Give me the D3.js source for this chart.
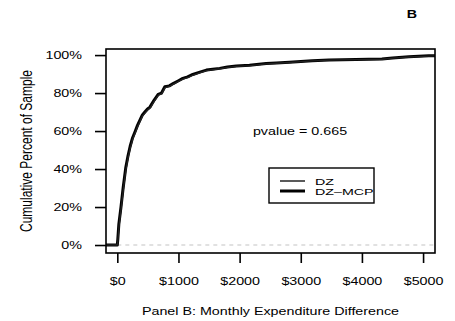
<!DOCTYPE html>
<html>
<head>
<meta charset="utf-8">
<script src="https://cdn.jsdelivr.net/npm/d3@7"></script>
<style>
  html, body { margin: 0; padding: 0; background: #fff; }
  svg { display: block; }
  text { font-family: "Liberation Sans", Arial, sans-serif; fill: #000; }
</style>
</head>
<body>
<script>
// ---- data ----
const xTicks = [0, 1000, 2000, 3000, 4000, 5000];
const xTickLabels = ["$0", "$1000", "$2000", "$3000", "$4000", "$5000"];
const yTicks = [0, 0.2, 0.4, 0.6, 0.8, 1.0];
const yTickLabels = ["0%", "20%", "40%", "60%", "80%", "100%"];

const seriesNames = ["DZ", "DZ\u2013MCP"];

const dzMcpX = [-300, 0, 8, 25, 60, 95, 137, 175, 210, 250, 288, 330, 370, 410, 450, 490, 533, 600, 668, 723, 777, 850, 912, 1000, 1070, 1150, 1233, 1350, 1456, 1560, 1673, 1800, 1945, 2161, 2433, 2600, 2813, 3000, 3187, 3464, 3900, 4327, 4500, 4767, 5093, 5400];
const dzMcpY = [0, 0, 0.03, 0.11, 0.20, 0.30, 0.405, 0.47, 0.52, 0.565, 0.595, 0.63, 0.658, 0.685, 0.70, 0.715, 0.726, 0.762, 0.793, 0.80, 0.833, 0.838, 0.85, 0.865, 0.877, 0.885, 0.898, 0.91, 0.921, 0.925, 0.93, 0.937, 0.942, 0.947, 0.956, 0.958, 0.962, 0.966, 0.970, 0.974, 0.977, 0.979, 0.985, 0.991, 0.996, 0.997];

const dzX = [-300, 0, 10, 28, 62, 98, 140, 178, 214, 252, 292, 334, 374, 414, 455, 495, 538, 605, 672, 728, 782, 855, 918, 1005, 1076, 1156, 1240, 1356, 1462, 1566, 1680, 1806, 1952, 2168, 2440, 2606, 2820, 3006, 3194, 3470, 3906, 4334, 4506, 4774, 5100, 5400];
const dzY = [0, 0, 0.025, 0.10, 0.19, 0.29, 0.395, 0.462, 0.513, 0.558, 0.59, 0.625, 0.653, 0.68, 0.696, 0.711, 0.722, 0.758, 0.789, 0.797, 0.829, 0.835, 0.847, 0.862, 0.874, 0.882, 0.895, 0.907, 0.918, 0.923, 0.928, 0.935, 0.94, 0.945, 0.954, 0.957, 0.961, 0.965, 0.969, 0.973, 0.976, 0.978, 0.984, 0.99, 0.995, 0.997];

const pvalueText = "pvalue = 0.665";
const xTitle = "Panel B: Monthly Expenditure Difference";
const yTitle = "Cumulative Percent of Sample";
const panelLetter = "B";

// ---- layout ----
const W = 455, H = 321;
const L = 106, R = 435, T = 49, B = 253;
const SX = 1.3; // horizontal stretch of text in the reference

const svg = d3.select("body").append("svg").attr("width", W).attr("height", H);

const x = d3.scaleLinear().domain([-185, 5195]).range([L, R]);
const y = d3.scaleLinear().domain([-0.042, 1.032]).range([B, T]);

function stretchedText(sel, px, py, str, size, anchor, weight, sx) {
  return sel.append("text")
    .attr("transform", `translate(${px},${py}) scale(${sx || SX},1)`)
    .attr("text-anchor", anchor)
    .style("font-size", size + "px")
    .style("font-weight", weight || "normal")
    .text(str);
}

// clip
svg.append("clipPath").attr("id", "plotclip")
  .append("rect").attr("x", L).attr("y", T).attr("width", R - L).attr("height", B - T);

// dashed grey zero line
svg.append("line")
  .attr("x1", x(0)).attr("x2", R)
  .attr("y1", y(0)).attr("y2", y(0))
  .attr("stroke", "#c4c4c4").attr("stroke-width", 1.2)
  .attr("stroke-dasharray", "4,4");

// curves
const line = d3.line().x(d => x(d[0])).y(d => y(d[1])).curve(d3.curveLinear);
const g = svg.append("g").attr("clip-path", "url(#plotclip)");
g.append("path").datum(dzMcpX.map((v, i) => [v, dzMcpY[i]]))
  .attr("d", line).attr("fill", "none").attr("stroke", "#000")
  .attr("stroke-width", 3).attr("stroke-linejoin", "round");
g.append("path").datum(dzX.map((v, i) => [v, dzY[i]]))
  .attr("d", line).attr("fill", "none").attr("stroke", "#222")
  .attr("stroke-width", 1.3).attr("stroke-linejoin", "round");

// box
svg.append("rect").attr("x", L).attr("y", T).attr("width", R - L).attr("height", B - T)
  .attr("fill", "none").attr("stroke", "#000").attr("stroke-width", 1.6);

// x axis
const xAxis = d3.axisBottom(x).tickValues(xTicks)
  .tickFormat((d, i) => xTickLabels[i]).tickSize(10).tickPadding(14);
const gx = svg.append("g").attr("transform", `translate(0,${B})`).call(xAxis);
gx.select(".domain").remove();
gx.selectAll(".tick line").attr("stroke", "#000").attr("stroke-width", 1.6);
gx.selectAll(".tick text")
  .style("font-size", "11px").style("font-family", "Liberation Sans, Arial, sans-serif")
  .attr("fill", "#000")
  .attr("transform", `scale(${SX},1)`);

// y axis
const yAxis = d3.axisLeft(y).tickValues(yTicks)
  .tickFormat((d, i) => yTickLabels[i]).tickSize(11).tickPadding(13);
const gy = svg.append("g").attr("transform", `translate(${L},0)`).call(yAxis);
gy.select(".domain").remove();
gy.selectAll(".tick line").attr("stroke", "#000").attr("stroke-width", 1.6);
gy.selectAll(".tick text")
  .style("font-size", "11px").style("font-family", "Liberation Sans, Arial, sans-serif")
  .attr("fill", "#000")
  .attr("x", -24 / SX)
  .attr("transform", `scale(${SX},1)`);

// titles
stretchedText(svg, (L + R) / 2, 315, xTitle, 11, "middle");
svg.append("text")
  .attr("transform", `translate(32,${(T + B) / 2}) scale(${SX},1) rotate(-90)`)
  .attr("text-anchor", "middle")
  .style("font-size", "12px")
  .text(yTitle);
stretchedText(svg, 412, 18, panelLetter, 11, "middle", "bold");

// p-value
stretchedText(svg, 300, 135, pvalueText, 11, "middle");

// legend
const lgX = 269, lgY = 168, lgW = 105, lgH = 35;
svg.append("rect").attr("x", lgX).attr("y", lgY).attr("width", lgW).attr("height", lgH)
  .attr("fill", "#fff").attr("stroke", "#000").attr("stroke-width", 1.4);
const legendWidths = [1.3, 3];
seriesNames.forEach((name, i) => {
  const ly = 181 + i * 10;
  svg.append("line").attr("x1", 280).attr("x2", 305).attr("y1", ly).attr("y2", ly)
    .attr("stroke", "#000").attr("stroke-width", legendWidths[i]);
  stretchedText(svg, 315, ly + 3.5, name, 9.5, "start", "normal", 1.5);
});
</script>
</body>
</html>
